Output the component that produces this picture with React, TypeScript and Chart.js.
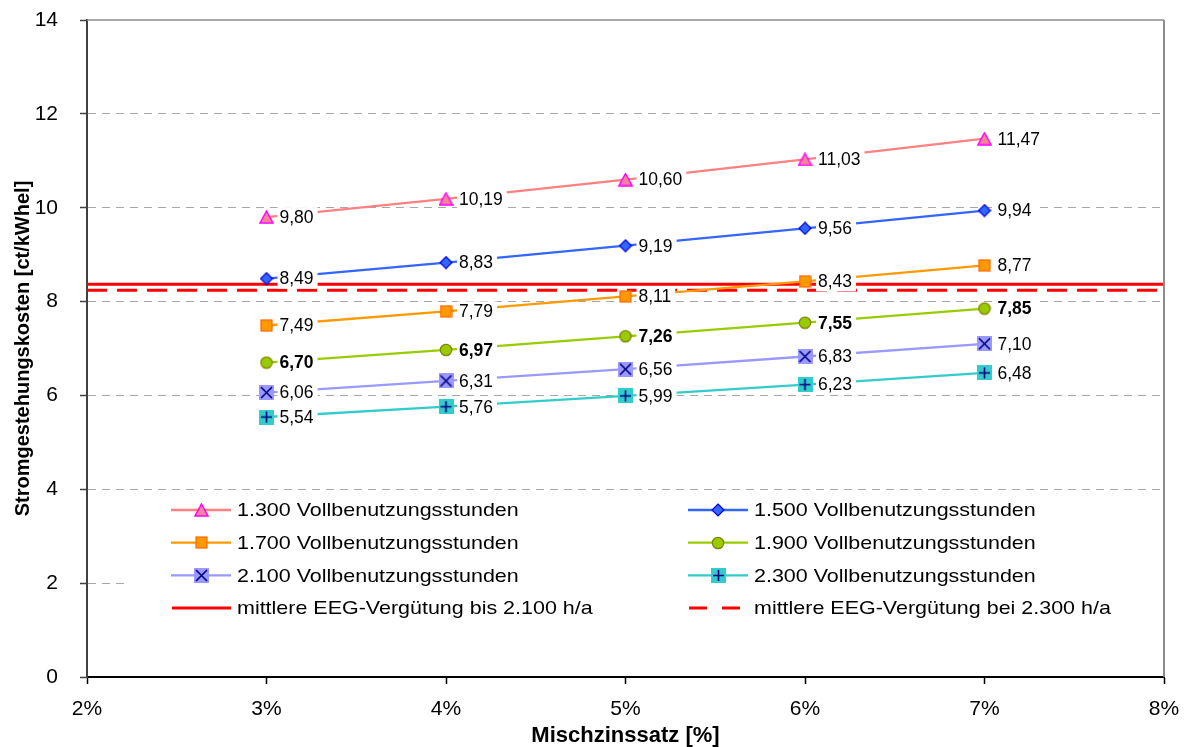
import React, { useEffect, useRef } from 'react';
import { Chart, registerables } from 'chart.js';

Chart.register(...registerables);

const FONT = "'Liberation Sans', Arial, Helvetica, sans-serif";

// ---- data ----
const xValues = [3, 4, 5, 6, 7];
const s1300 = [9.8, 10.19, 10.6, 11.03, 11.47];
const s1500 = [8.49, 8.83, 9.19, 9.56, 9.94];
const s1700 = [7.49, 7.79, 8.11, 8.43, 8.77];
const s1900 = [6.7, 6.97, 7.26, 7.55, 7.85];
const s2100 = [6.06, 6.31, 6.56, 6.83, 7.1];
const s2300 = [5.54, 5.76, 5.99, 6.23, 6.48];
const seriesNames = [
  '1.300 Vollbenutzungsstunden',
  '1.500 Vollbenutzungsstunden',
  '1.700 Vollbenutzungsstunden',
  '1.900 Vollbenutzungsstunden',
  '2.100 Vollbenutzungsstunden',
  '2.300 Vollbenutzungsstunden',
];
const eegX = [2, 8];
const eegBis = [8.37, 8.37];
const eegBei = [8.24, 8.24];
const eegNames = ['mittlere EEG-Vergütung bis 2.100 h/a', 'mittlere EEG-Vergütung bei 2.300 h/a'];
const xTickLabels = ['2%', '3%', '4%', '5%', '6%', '7%', '8%'];
const yTickLabels = ['0', '2', '4', '6', '8', '10', '12', '14'];
const xTitle = 'Mischzinssatz [%]';
const yTitle = 'Stromgestehungskosten [ct/kWhel]';

const fmt = (v: number) => v.toFixed(2).replace('.', ',');

// ---- marker images ----
function makeMarker(kind: string): HTMLCanvasElement {
  const c = document.createElement('canvas');
  const ctx = c.getContext('2d') as CanvasRenderingContext2D;
  if (kind === 'triangle') {
    c.width = 15; c.height = 14;
    ctx.beginPath();
    ctx.moveTo(7.5, 1); ctx.lineTo(14, 13); ctx.lineTo(1, 13); ctx.closePath();
    ctx.fillStyle = '#F4849A'; ctx.fill();
    ctx.strokeStyle = '#FF00FF'; ctx.lineWidth = 1.5; ctx.stroke();
  } else if (kind === 'diamond') {
    c.width = 14; c.height = 14;
    ctx.beginPath();
    ctx.moveTo(7, 1); ctx.lineTo(13, 7); ctx.lineTo(7, 13); ctx.lineTo(1, 7); ctx.closePath();
    ctx.fillStyle = '#3366FF'; ctx.fill();
    ctx.strokeStyle = '#0000DD'; ctx.lineWidth = 1.2; ctx.stroke();
  } else if (kind === 'square') {
    c.width = 13; c.height = 13;
    ctx.fillStyle = '#FF9900'; ctx.fillRect(1, 1, 11, 11);
    ctx.strokeStyle = '#FF6600'; ctx.lineWidth = 1.2; ctx.strokeRect(1, 1, 11, 11);
  } else if (kind === 'circle') {
    c.width = 14; c.height = 14;
    ctx.beginPath(); ctx.arc(7, 7, 5.7, 0, Math.PI * 2);
    ctx.fillStyle = '#99CC00'; ctx.fill();
    ctx.strokeStyle = '#808000'; ctx.lineWidth = 1.2; ctx.stroke();
  } else if (kind === 'xbox') {
    c.width = 15; c.height = 15;
    ctx.fillStyle = '#9999FF'; ctx.fillRect(0, 0, 15, 15);
    ctx.strokeStyle = '#000080'; ctx.lineWidth = 1.6;
    ctx.beginPath(); ctx.moveTo(2, 2); ctx.lineTo(13, 13); ctx.moveTo(13, 2); ctx.lineTo(2, 13); ctx.stroke();
  } else {
    c.width = 15; c.height = 15;
    ctx.fillStyle = '#33CCCC'; ctx.fillRect(0, 0, 15, 15);
    ctx.strokeStyle = '#000080'; ctx.lineWidth = 1.6;
    ctx.beginPath(); ctx.moveTo(7.5, 2); ctx.lineTo(7.5, 13); ctx.moveTo(2, 7.5); ctx.lineTo(13, 7.5); ctx.stroke();
  }
  return c;
}

const seriesValues = [s1300, s1500, s1700, s1900, s2100, s2300];
const seriesColors = ['#FF8080', '#3366FF', '#FF9900', '#99CC00', '#9999FF', '#33CCCC'];
const seriesMarkers = ['triangle', 'diamond', 'square', 'circle', 'xbox', 'plusbox'];
const seriesBold = [false, false, false, true, false, false];

export default function App() {
  const ref = useRef<HTMLCanvasElement | null>(null);

  useEffect(() => {
    if (!ref.current) return;
    const markers = seriesMarkers.map(makeMarker);

    const datasets: any[] = seriesValues.map((vals, i) => ({
      label: seriesNames[i],
      data: xValues.map((x, j) => ({ x, y: vals[j] })),
      borderColor: seriesColors[i],
      backgroundColor: seriesColors[i],
      borderWidth: 2.3,
      pointStyle: markers[i],
      pointRadius: 7,
      pointHoverRadius: 7,
      tension: 0,
    }));
    datasets.push({
      label: eegNames[0],
      data: eegX.map((x, j) => ({ x, y: eegBis[j] })),
      borderColor: '#FF0000',
      borderWidth: 3,
      pointRadius: 0,
      tension: 0,
    });
    datasets.push({
      label: eegNames[1],
      data: eegX.map((x, j) => ({ x, y: eegBei[j] })),
      borderColor: '#FF0000',
      borderWidth: 3,
      borderDash: [20, 10],
      pointRadius: 0,
      tension: 0,
    });

    const labelPlugin = {
      id: 'pointLabels',
      afterDatasetsDraw(chart: any) {
        const ctx = chart.ctx as CanvasRenderingContext2D;
        ctx.save();
        seriesValues.forEach((vals, di) => {
          const meta = chart.getDatasetMeta(di);
          ctx.font = `${seriesBold[di] ? 'bold ' : ''}17.5px ${FONT}`;
          ctx.textBaseline = 'middle';
          meta.data.forEach((pt: any, i: number) => {
            const text = fmt(vals[i]);
            const w = ctx.measureText(text).width;
            const x0 = pt.x + 13;
            const y0 = pt.y;
            ctx.fillStyle = '#FFFFFF';
            ctx.fillRect(x0 - 2, y0 - 10, w + 6, 20);
            ctx.fillStyle = '#000000';
            ctx.fillText(text, x0, y0 + 1);
          });
        });
        ctx.restore();
      },
    };

    const legendPlugin = {
      id: 'innerLegend',
      afterDraw(chart: any) {
        const ctx = chart.ctx as CanvasRenderingContext2D;
        const a = chart.chartArea;
        ctx.save();
        // legend box
        ctx.fillStyle = '#FFFFFF';
        ctx.fillRect(a.left + 40, a.top + 473, a.right - a.left - 42, 132);
        const colX = [a.left + 84, a.left + 601];
        const rowY0 = a.top + 490;
        const rowStep = 32.7;
        const names = [...seriesNames, ...eegNames];
        names.forEach((name, k) => {
          const col = k % 2;
          const row = Math.floor(k / 2);
          const lx = colX[col];
          const ly = rowY0 + row * rowStep;
          if (k < 6) {
            ctx.strokeStyle = seriesColors[k];
            ctx.lineWidth = 2.3;
            ctx.setLineDash([]);
            ctx.beginPath(); ctx.moveTo(lx, ly); ctx.lineTo(lx + 60, ly); ctx.stroke();
            const m = markers[k];
            ctx.drawImage(m, Math.round(lx + 30 - m.width / 2), Math.round(ly - m.height / 2));
          } else {
            ctx.strokeStyle = '#FF0000';
            ctx.lineWidth = 3;
            ctx.setLineDash(k === 7 ? [18, 15] : []);
            ctx.beginPath(); ctx.moveTo(lx + 1, ly); ctx.lineTo(lx + 60, ly); ctx.stroke();
            ctx.setLineDash([]);
          }
          ctx.fillStyle = '#000000';
          ctx.font = `19px ${FONT}`;
          ctx.textBaseline = 'middle';
          ctx.save();
          ctx.translate(lx + 66, ly + 1);
          ctx.scale(1.13, 1);
          ctx.fillText(name, 0, 0);
          ctx.restore();
        });
        // plot area frame (top and right)
        ctx.strokeStyle = '#8C8C8C';
        ctx.lineWidth = 1.5;
        ctx.beginPath();
        ctx.moveTo(a.left, a.top); ctx.lineTo(a.right, a.top);
        ctx.stroke();
        ctx.lineWidth = 2;
        ctx.beginPath();
        ctx.moveTo(a.right, a.top); ctx.lineTo(a.right, a.bottom);
        ctx.stroke();
        ctx.restore();
      },
    };

    const chart = new Chart(ref.current, {
      type: 'line',
      data: { datasets },
      plugins: [labelPlugin, legendPlugin],
      options: {
        animation: false,
        responsive: false,
        devicePixelRatio: 1,
        layout: { autoPadding: false, padding: { top: 20, right: 21, left: 0, bottom: 0 } },
        plugins: { legend: { display: false }, tooltip: { enabled: false } },
        scales: {
          x: {
            type: 'linear',
            min: 2,
            max: 8,
            ticks: {
              stepSize: 1,
              autoSkip: false,
              maxRotation: 0,
              callback: (_v: any, i: number) => xTickLabels[i],
              font: { size: 21, family: FONT },
              color: '#000000',
              padding: 13,
            },
            grid: { drawOnChartArea: false, drawTicks: true, tickLength: 7, tickColor: '#000000', tickWidth: 1.5 },
            border: { color: '#000000', width: 2 },
            title: {
              display: true,
              text: xTitle,
              color: '#000000',
              font: { size: 22, weight: 'bold', family: FONT, lineHeight: 1 },
              padding: { top: 0, bottom: 0 },
            },
            afterFit: (s: any) => {
              s.height = 70;
              s.paddingLeft = 0; s.paddingRight = 0; s.paddingTop = 0; s.paddingBottom = 0;
            },
          },
          y: {
            min: 0,
            max: 14,
            ticks: {
              stepSize: 2,
              callback: (_v: any, i: number) => yTickLabels[i],
              font: { size: 21, family: FONT },
              color: '#000000',
              padding: 22,
            },
            grid: {
              color: (c: any) => (c.tick && (c.tick.value === 0 || c.tick.value === 14) ? 'rgba(0,0,0,0)' : '#A6A6A6'),
              lineWidth: 1,
              tickLength: 7,
              tickColor: '#404040',
              tickWidth: 1.5,
            },
            border: { color: '#404040', width: 2, dash: [8, 6] },
            title: {
              display: true,
              text: yTitle,
              color: '#000000',
              font: { size: 20, weight: 'bold', family: FONT, lineHeight: 1 },
              padding: { top: 13, bottom: 0 },
            },
            afterFit: (s: any) => {
              s.width = 87;
              s.paddingLeft = 0; s.paddingRight = 0; s.paddingTop = 0; s.paddingBottom = 0;
            },
          },
        },
      } as any,
    });
    return () => chart.destroy();
  }, []);

  return (
    <div style={{ position: 'absolute', left: 0, top: 0, width: 1185, height: 747, background: '#FFFFFF' }}>
      <canvas ref={ref} width={1185} height={747} style={{ width: 1185, height: 747, display: 'block' }} />
    </div>
  );
}
